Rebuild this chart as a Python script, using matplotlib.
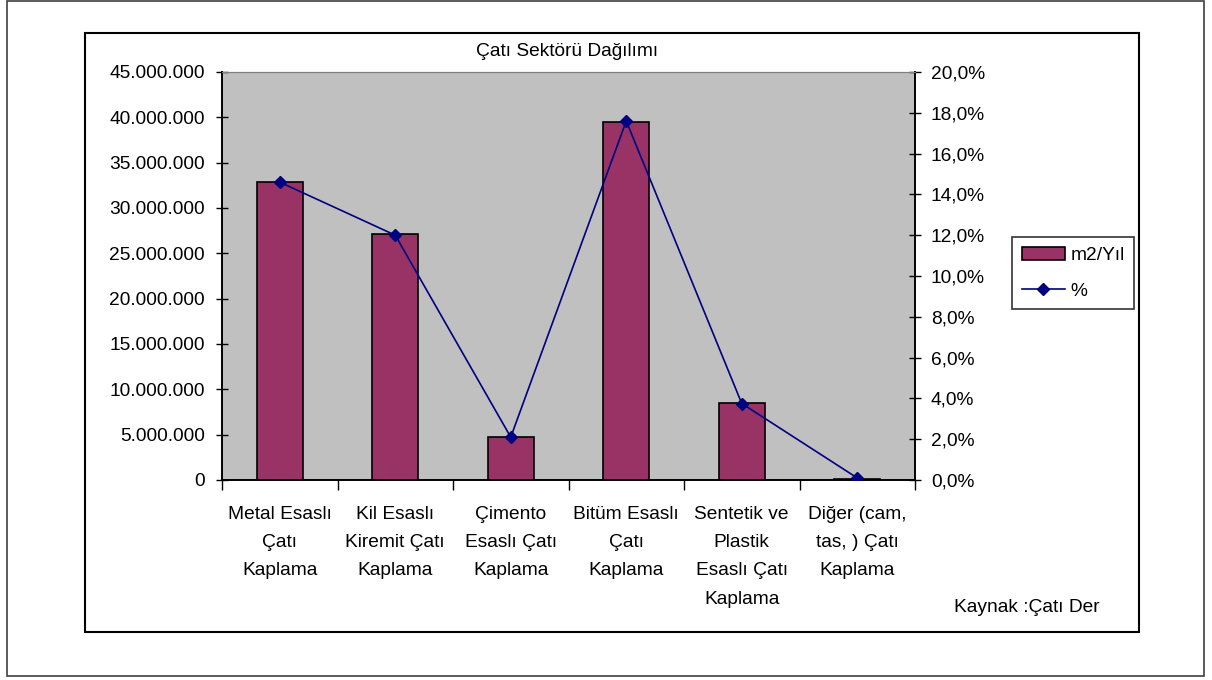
import matplotlib.pyplot as plt
import matplotlib.ticker as ticker
from matplotlib.patches import Rectangle
import numpy as np

# chart data
categories = ["Metal Esaslı\nÇatı\nKaplama",
              "Kil Esaslı\nKiremit Çatı\nKaplama",
              "Çimento\nEsaslı Çatı\nKaplama",
              "Bitüm Esaslı\nÇatı\nKaplama",
              "Sentetik ve\nPlastik\nEsaslı Çatı\nKaplama",
              "Diğer (cam,\ntas, ) Çatı\nKaplama"]
m2_yil = [32900000, 27100000, 4700000, 39500000, 8450000, 150000]
percent = [14.6, 12.0, 2.1, 17.6, 3.75, 0.1]

W, H = 1212, 680
FS = 13.8
plt.rcParams['font.family'] = ['Liberation Sans', 'DejaVu Sans']
fig = plt.figure(figsize=(W/100, H/100), dpi=100)

def px(x0, y0, x1, y1):  # pixel box -> figure fraction rect
    return [x0/W, 1 - y1/H, (x1-x0)/W, (y1-y0)/H]

# outer frame and chart area frame
fig.patches.append(Rectangle((7/W, 4/H), 1197/W, 675/H, transform=fig.transFigure,
                             fill=False, edgecolor='#404040', lw=1.2))
fig.patches.append(Rectangle((85/W, 48/H), 1054/W, 599/H, transform=fig.transFigure,
                             fill=False, edgecolor='black', lw=1.5))

ax = fig.add_axes(px(222, 72, 915, 480))
ax.set_facecolor('#C0C0C0')
x = np.arange(len(categories))
ax.bar(x, m2_yil, width=0.4, color='#993366', edgecolor='black', lw=1.2, zorder=2)
ax.set_xlim(-0.5, len(categories) - 0.5)
ax.set_ylim(0, 45000000)
ax.yaxis.set_major_locator(ticker.MultipleLocator(5000000))
ax.yaxis.set_major_formatter(ticker.FuncFormatter(lambda v, p: f"{v:,.0f}".replace(',', '.')))
ax.set_xticks(np.arange(-0.5, len(categories)), labels=[])
ax.set_xticks(x, labels=categories, minor=True)
ax.tick_params(axis='x', which='major', direction='out', length=7, width=1)
ax.tick_params(axis='x', which='minor', length=0, pad=19, labelsize=FS)
for lab in ax.get_xticklabels(minor=True):
    lab.set_linespacing(1.85)
    lab.set_verticalalignment('top')
ax.tick_params(axis='y', direction='inout', length=9, width=1, labelsize=FS, pad=8)

ax2 = ax.twinx()
ax2.plot(x, percent, color='#000080', marker='D', markersize=6, lw=1.2, zorder=3)
ax2.set_ylim(0, 20)
ax2.yaxis.set_major_locator(ticker.MultipleLocator(2))
ax2.yaxis.set_major_formatter(ticker.FuncFormatter(lambda v, p: f"{v:.1f}%".replace('.', ',')))
ax2.tick_params(axis='y', direction='inout', length=9, width=1, labelsize=FS, pad=7)

for a in (ax, ax2):
    a.spines['top'].set_color('#808080')
    a.spines['left'].set_linewidth(1.2)
    a.spines['right'].set_linewidth(1.2)
    a.spines['bottom'].set_linewidth(1.2)

# legend
h1 = Rectangle((0, 0), 1, 1, facecolor='#993366', edgecolor='black', lw=1.2)
h2 = plt.Line2D([], [], color='#000080', marker='D', markersize=6, lw=1.2)
fig.legend([h1, h2], ['m2/Yıl', '%'], loc='upper left',
           bbox_to_anchor=(1012/W, 1 - 237/H), fontsize=FS, frameon=True,
           fancybox=False, edgecolor='black', borderpad=0.5, handlelength=2.25,
           handletextpad=0.3, labelspacing=0.95, borderaxespad=0)
fig.legends[0].get_frame().set_linewidth(1.2)

fig.text(567/W, 1 - 51/H, "Çatı Sektörü Dağılımı", ha='center', va='center', fontsize=FS)
fig.text(1027/W, 1 - 608/H, "Kaynak :Çatı Der", ha='center', va='center', fontsize=FS)

fig.savefig("out.png", dpi=100)
